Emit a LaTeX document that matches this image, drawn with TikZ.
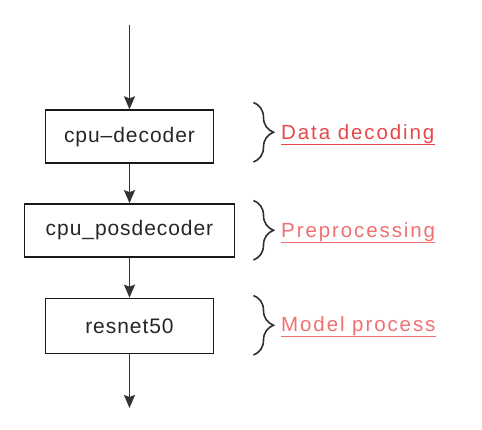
\documentclass[tikz,border=0pt]{standalone}
\usepackage{fontspec}
\usetikzlibrary{arrows.meta,decorations.pathreplacing}
\newfontfamily\boxfont{Liberation Sans}[LetterSpace=4.5]
\newfontfamily\redfont{Liberation Sans}[LetterSpace=9.3]
\definecolor{lineC}{HTML}{333333}
\definecolor{redA}{HTML}{E8474C}
\definecolor{redB}{HTML}{F07070}
\definecolor{braceC}{HTML}{2B2F36}
\begin{document}
\begin{tikzpicture}[x=1pt,y=-1pt,
  stage/.style={draw=black!90, line width=1.7pt, rectangle, inner sep=0pt,
    font=\boxfont\fontsize{21}{25}\selectfont, text=black!85},
  flow/.style={draw=lineC, line width=1.7pt, -{Stealth[length=13pt,width=11pt,inset=2pt]}},
  curly/.style={draw=braceC, line width=1.6pt, decorate,
    decoration={brace, amplitude=20pt, aspect=0.5}},
  note/.style={anchor=base west, inner sep=0pt, font=\redfont\fontsize{20.5}{24}\selectfont},
  uline/.style={line width=1pt}
]
\useasboundingbox (0,0) rectangle (482,429);

\coordinate (top) at (129.5,25);
\coordinate (bot) at (129.5,408);

\node[stage, minimum width=168pt, minimum height=53pt] (dec) at (129.5,136.7) {cpu–decoder};
\node[stage, minimum width=210pt, minimum height=53pt] (pos) at (129.5,230.5) {cpu\_posdecoder};
\node[stage, minimum width=168pt, minimum height=55pt] (res) at (129.5,326) {resnet50};

\draw[flow] (top) -- (dec.north);
\draw[flow] (dec.south) -- (pos.north);
\draw[flow] (pos.south) -- (res.north);
\draw[flow] (res.south) -- (bot);

\coordinate (b1a) at (253.5,102.5);
\coordinate (b1b) at (253.5,162);
\coordinate (b2a) at (253.5,200.5);
\coordinate (b2b) at (253.5,260);
\coordinate (b3a) at (253.5,295.5);
\coordinate (b3b) at (253.5,355);
\draw[curly] (b1a) -- (b1b);
\draw[curly] (b2a) -- (b2b);
\draw[curly] (b3a) -- (b3b);

\node[note, text=redA] (n1) at (281,139) {Data decoding};
\node[note, text=redB] (n2) at (281,237.5) {Preprocessing};
\node[note, text=redB] (n3) at (281,331.5) {Model process};
\draw[uline, redA] ([yshift=-5pt]n1.base west) -- ([yshift=-5pt]n1.base east);
\draw[uline, redB] ([yshift=-5pt]n2.base west) -- ([yshift=-5pt]n2.base east);
\draw[uline, redB] ([yshift=-5pt]n3.base west) -- ([yshift=-5pt]n3.base east);
\end{tikzpicture}
\end{document}
